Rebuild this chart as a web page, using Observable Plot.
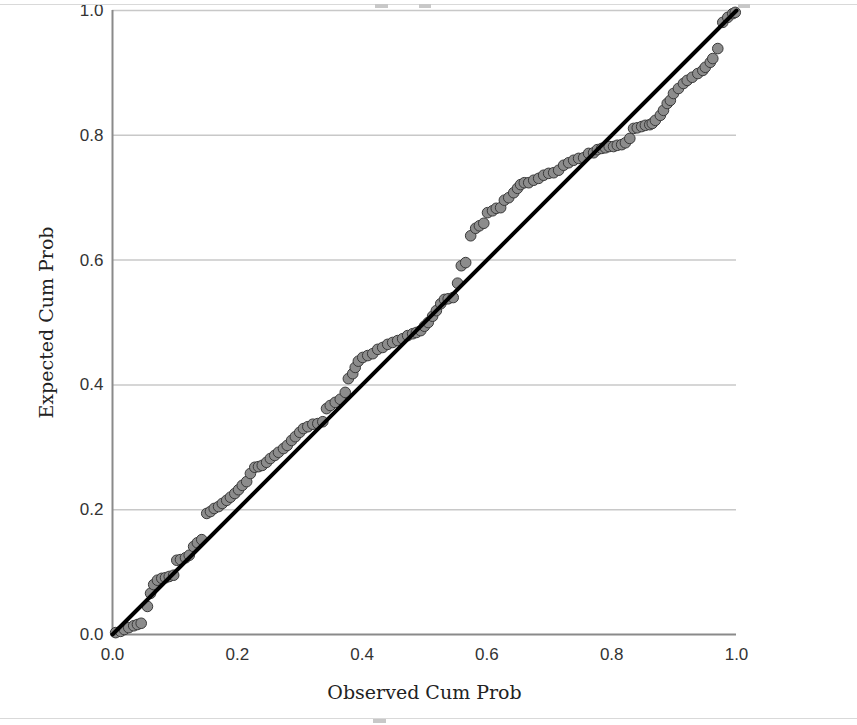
<!DOCTYPE html>
<html>
<head>
<meta charset="utf-8">
<script src="https://cdn.jsdelivr.net/npm/d3@7"></script>
<script src="https://cdn.jsdelivr.net/npm/@observablehq/plot@0.6"></script>
<style>
  html, body { margin: 0; padding: 0; background: #fff; }
  #wrap { position: relative; width: 857px; height: 725px; overflow: hidden; }
  .hl { position: absolute; left: 0; width: 857px; height: 1px; background: #d9d9d9; }
  .bx { position: absolute; height: 4px; background: #c8c8c8; }
</style>
</head>
<body>
<div id="wrap"></div>
<script>
const observed = [0.005,0.013,0.019,0.026,0.034,0.040,0.046,0.056,0.061,0.066,0.072,0.079,0.085,0.091,0.098,0.103,0.109,0.117,0.123,0.130,0.136,0.143,0.151,0.157,0.163,0.170,0.176,0.183,0.189,0.196,0.202,0.208,0.215,0.221,0.228,0.234,0.240,0.247,0.253,0.260,0.266,0.274,0.280,0.287,0.293,0.300,0.306,0.313,0.321,0.329,0.337,0.343,0.349,0.357,0.365,0.373,0.378,0.385,0.389,0.394,0.401,0.409,0.417,0.425,0.433,0.441,0.449,0.457,0.465,0.473,0.481,0.487,0.494,0.500,0.506,0.513,0.519,0.526,0.532,0.538,0.546,0.553,0.559,0.566,0.574,0.582,0.588,0.595,0.601,0.609,0.615,0.622,0.628,0.635,0.643,0.649,0.654,0.660,0.667,0.675,0.683,0.691,0.699,0.707,0.715,0.723,0.731,0.739,0.747,0.755,0.763,0.771,0.777,0.784,0.790,0.796,0.803,0.809,0.816,0.822,0.829,0.835,0.841,0.848,0.854,0.861,0.865,0.870,0.878,0.883,0.889,0.894,0.899,0.907,0.915,0.921,0.929,0.938,0.946,0.950,0.958,0.962,0.970,0.978,0.986,0.994,0.998];
const expected = [0.003,0.005,0.008,0.011,0.014,0.016,0.018,0.045,0.066,0.080,0.087,0.090,0.091,0.093,0.095,0.119,0.120,0.123,0.127,0.141,0.147,0.152,0.194,0.197,0.202,0.205,0.210,0.215,0.220,0.226,0.232,0.239,0.245,0.258,0.268,0.269,0.271,0.276,0.282,0.287,0.292,0.298,0.303,0.311,0.317,0.324,0.330,0.333,0.337,0.338,0.341,0.362,0.367,0.372,0.377,0.388,0.410,0.418,0.428,0.438,0.444,0.447,0.450,0.457,0.460,0.465,0.468,0.471,0.474,0.479,0.482,0.484,0.487,0.494,0.500,0.510,0.519,0.530,0.537,0.538,0.540,0.563,0.591,0.596,0.639,0.651,0.655,0.659,0.676,0.679,0.683,0.684,0.696,0.700,0.708,0.715,0.721,0.724,0.724,0.728,0.731,0.736,0.739,0.740,0.744,0.752,0.756,0.760,0.763,0.764,0.771,0.772,0.777,0.779,0.780,0.782,0.782,0.784,0.785,0.788,0.795,0.811,0.812,0.814,0.816,0.817,0.819,0.824,0.832,0.840,0.851,0.856,0.867,0.875,0.883,0.888,0.893,0.899,0.904,0.909,0.917,0.923,0.939,0.981,0.989,0.995,0.997];
const refLineX = [0, 1];
const refLineY = [0, 1];
const tickValues = [0, 0.2, 0.4, 0.6, 0.8, 1.0];
const gridValues = [0.2, 0.4, 0.6, 0.8, 1.0];
const xTitle = "Observed Cum Prob";
const yTitle = "Expected Cum Prob";

const points = observed.map((x, i) => ({x, y: expected[i]}));
const ref = refLineX.map((x, i) => ({x, y: refLineY[i]}));
const sans = "'Liberation Sans', Arial, sans-serif";

const chart = Plot.plot({
  width: 857,
  height: 725,
  marginLeft: 112,
  marginRight: 121,
  marginTop: 10,
  marginBottom: 91,
  style: {fontFamily: sans, fontSize: "17px", color: "#333", background: "#fff", overflow: "visible"},
  x: {domain: [0, 1], label: null},
  y: {domain: [0, 1], label: null},
  marks: [
    Plot.ruleY(gridValues, {stroke: "#c8c8c8", strokeWidth: 1.5}),
    Plot.ruleX([0], {stroke: "#8a8a8a", strokeWidth: 2}),
    Plot.ruleY([0], {stroke: "#8a8a8a", strokeWidth: 2}),
    Plot.axisX({ticks: tickValues, tickFormat: d3.format(".1f"), tickSize: 0, tickPadding: 13, fill: "#333", fontSize: 17, fontFamily: sans}),
    Plot.axisY({ticks: tickValues, tickFormat: d3.format(".1f"), tickSize: 0, tickPadding: 9, fill: "#333", fontSize: 17, fontFamily: sans}),
    Plot.dot(points, {x: "x", y: "y", r: 5.3, fill: "#8c8c8c", stroke: "#3a3a3a", strokeWidth: 1}),
    Plot.line(ref, {x: "x", y: "y", stroke: "#000", strokeWidth: 4}),
    Plot.text([xTitle], {frameAnchor: "bottom", dy: 64, text: d => d, fontFamily: "'DejaVu Serif', serif", fontSize: 19, fill: "#222"}),
    Plot.text([yTitle], {frameAnchor: "left", dx: -66, rotate: -90, textAnchor: "middle", text: d => d, fontFamily: "'DejaVu Serif', serif", fontSize: 19, fill: "#222"})
  ]
});

const wrap = document.getElementById("wrap");
wrap.appendChild(chart);
chart.style.position = "absolute";
chart.style.left = "0px";
chart.style.top = "0px";

function addDiv(cls, css) {
  const d = document.createElement("div");
  d.className = cls;
  Object.assign(d.style, css);
  wrap.appendChild(d);
}
addDiv("hl", {top: "4px"});
addDiv("hl", {top: "718px"});
addDiv("bx", {left: "375px", top: "4px", width: "13px"});
addDiv("bx", {left: "419px", top: "4px", width: "12px"});
addDiv("bx", {left: "738px", top: "4px", width: "12px"});
addDiv("bx", {left: "373px", top: "719px", width: "13px"});
</script>
</body>
</html>
